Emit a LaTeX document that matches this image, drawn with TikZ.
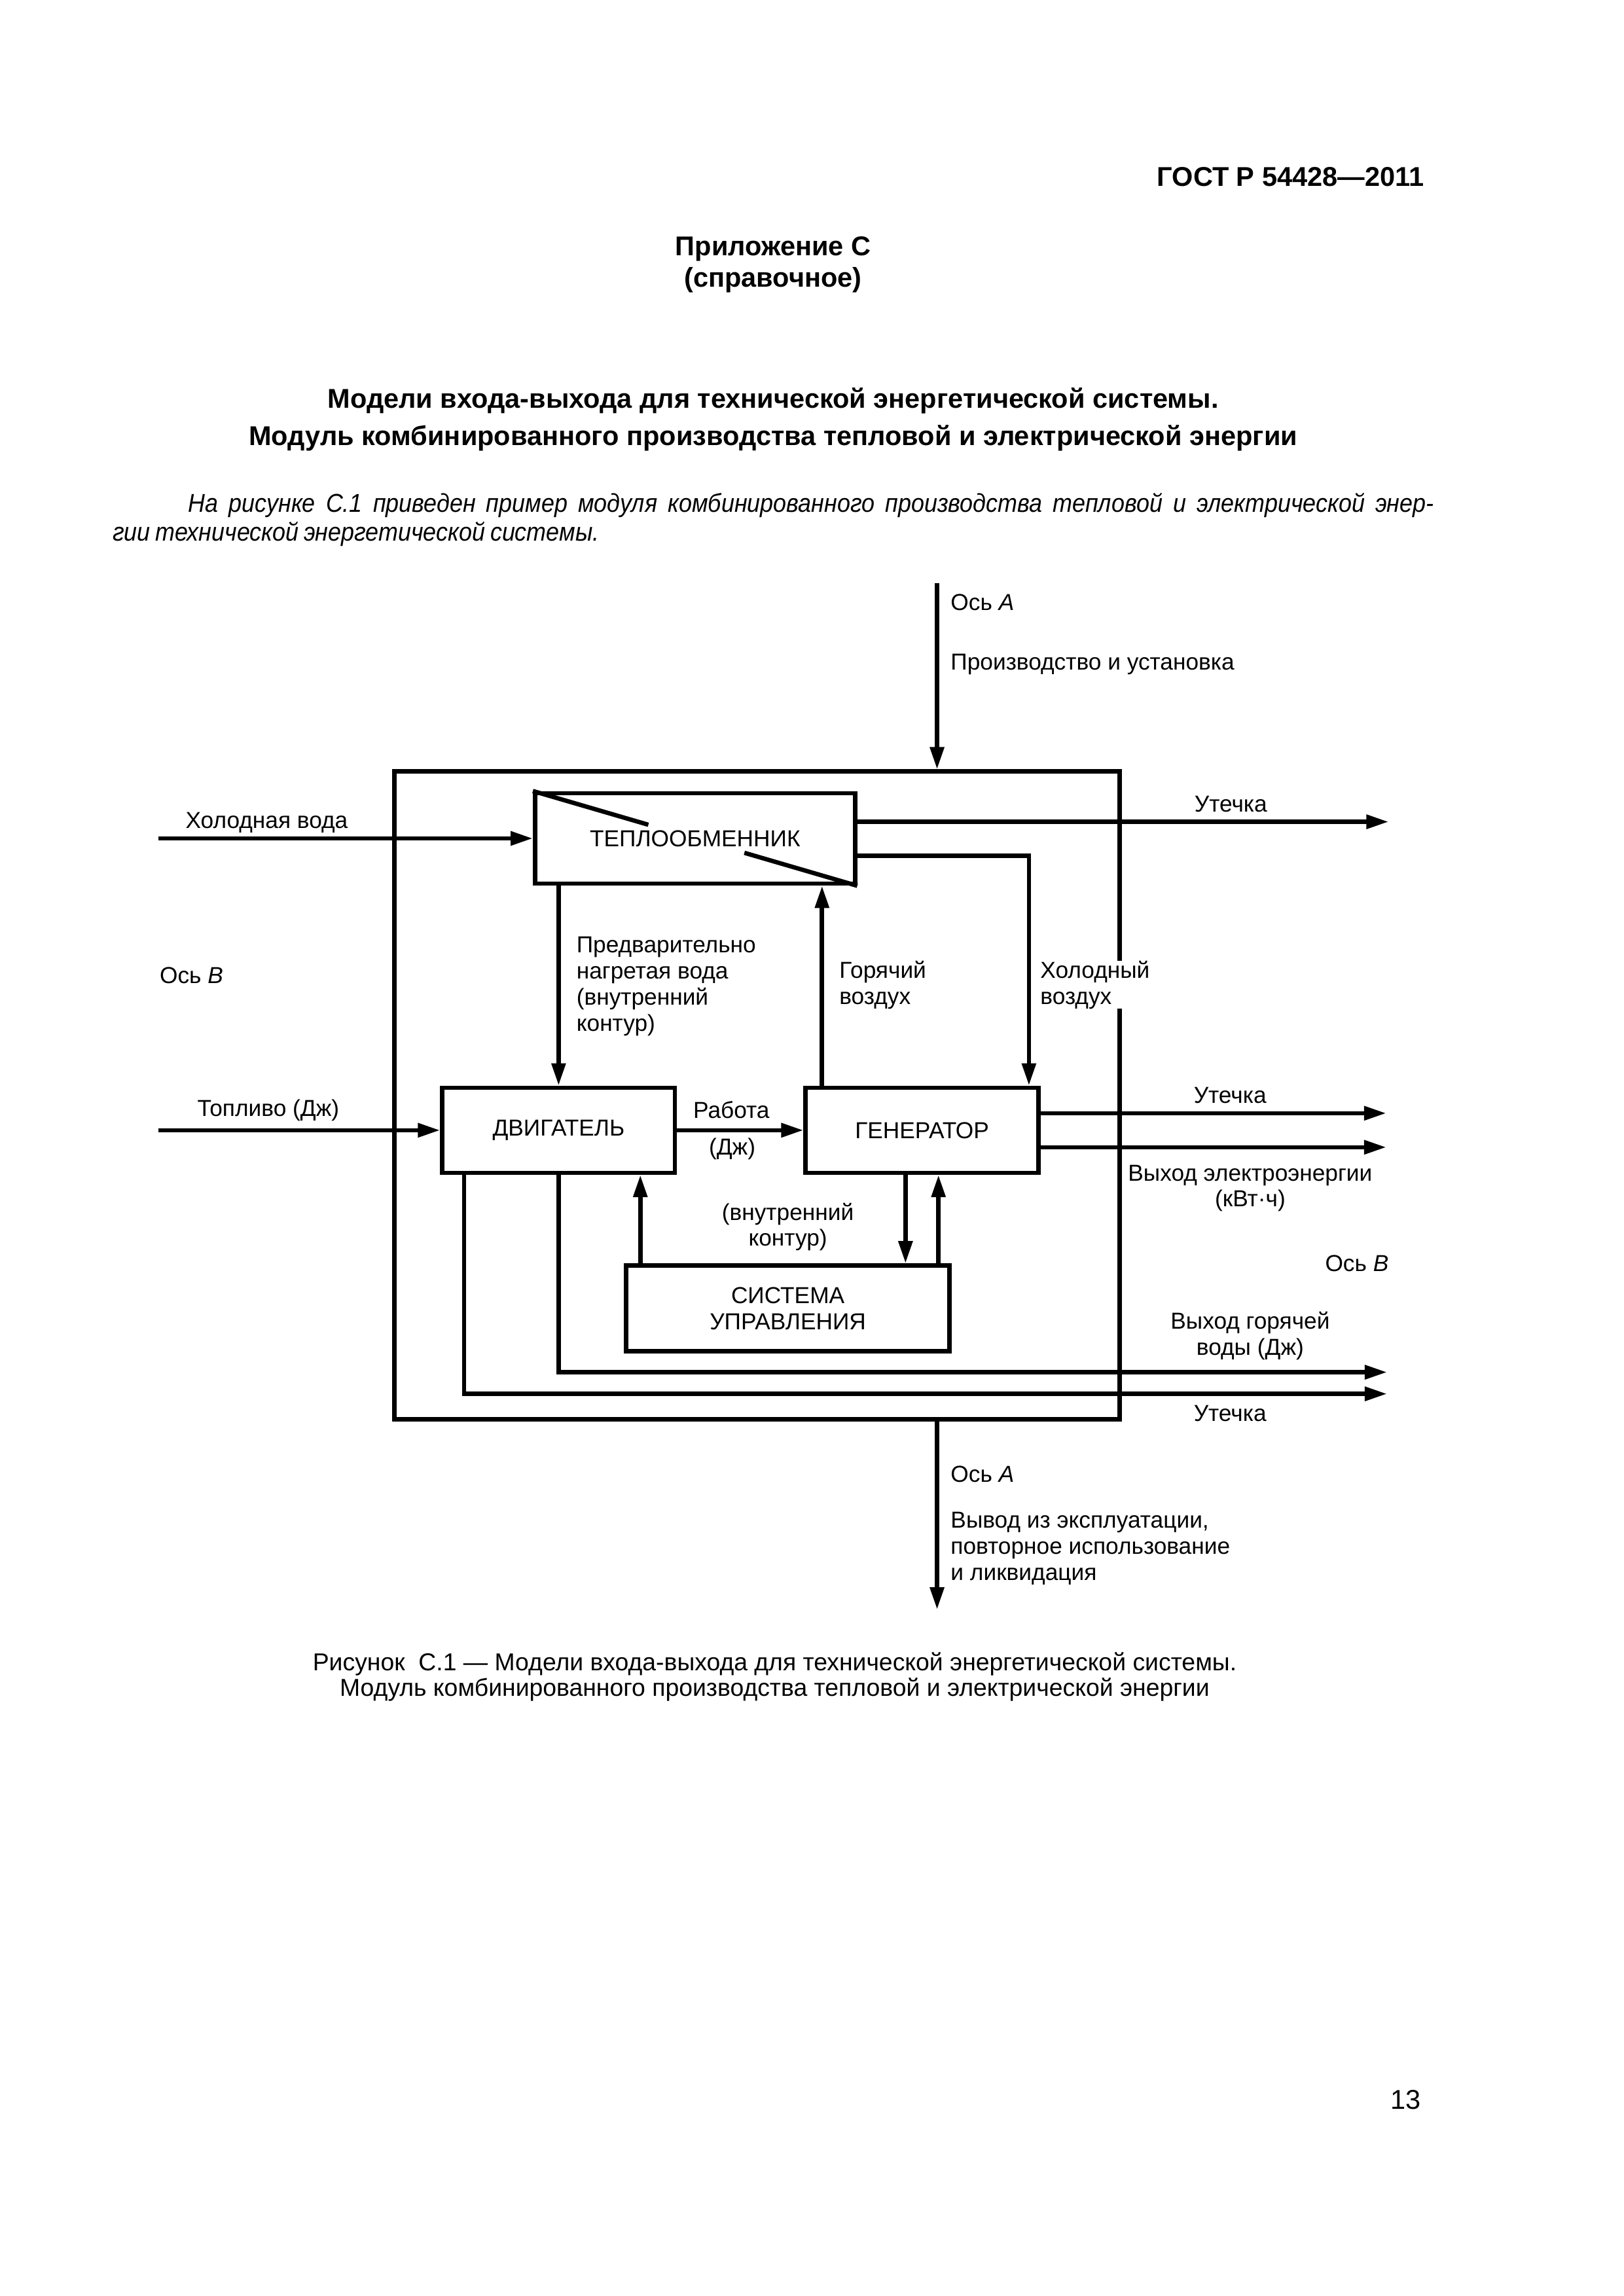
\documentclass[tikz,border=0pt]{standalone}
\usepackage{fontspec}
\setmainfont{Liberation Sans}
\newfontfamily\introfam[FakeStretch=0.91]{Liberation Sans}
\usetikzlibrary{arrows.meta,calc}
\newcommand{\diagfont}{\fontsize{8.5}{9.6}\selectfont}
\newcommand{\headfont}{\fontsize{10}{11.6}\selectfont\bfseries}
\newcommand{\titlefont}{\fontsize{10}{13.9}\selectfont\bfseries}
\newcommand{\introfont}{\introfam\fontsize{9.5}{10.6}\selectfont\itshape\spaceskip=0.2em plus 0.3em minus 0.1em\relax}
\newcommand{\capfont}{\fontsize{9}{9.6}\selectfont}
\tikzstyle{block}=[rectangle, draw=black, line width=1.6pt, inner sep=0pt, align=center, font=\diagfont]
\tikzstyle{annot}=[inner sep=0pt, font=\diagfont]
\tikzstyle{flow}=[line width=1.6pt, -{Triangle[length=8.2pt,width=5pt]}]
\tikzstyle{pipe}=[line width=1.6pt]

\begin{document}
\begin{tikzpicture}
	\useasboundingbox (0,0) rectangle (21,-29.7);

	\node[anchor=east, font=\headfont](gost) at (18.54,-2.29){ГОСТ Р 54428—2011};
	\node[align=center, font=\headfont](annex) at (10.0,-3.425){Приложение С\\(справочное)};
	\node[align=center, font=\titlefont](title) at (10.0,-5.425){Модели входа-выхода для технической энергетической системы.\\Модуль комбинированного производства тепловой и электрической энергии};
	\node[anchor=north west, text width=17.09cm, align=justify, font=\introfont, inner sep=0pt](intro) at (1.45,-6.37){\hspace*{0.98cm}На рисунке С.1 приведен пример модуля комбинированного производства тепловой и электрической энер-\linebreak{}гии технической энергетической системы.};

	\node[block, minimum width=9.38cm, minimum height=8.38cm](frame) at (9.79,-14.17){};
	\node[block, minimum width=4.14cm, minimum height=1.17cm](heat) at (8.99,-10.845){ТЕПЛООБМЕННИК};
	\node[block, minimum width=3.01cm, minimum height=1.10cm](engine) at (7.225,-14.62){ДВИГАТЕЛЬ};
	\node[block, minimum width=3.01cm, minimum height=1.10cm](gen) at (11.925,-14.62){ГЕНЕРАТОР};
	\node[block, minimum width=4.18cm, minimum height=1.11cm](ctrl) at (10.19,-16.925){СИСТЕМА\\УПРАВЛЕНИЯ};

	\draw[pipe] (heat.north west) -- ($(heat.north west)!0.356!(heat.south east)$);
	\draw[pipe] ($(heat.north west)!0.652!(heat.south east)$) -- (heat.south east);

	\coordinate (topA) at (12.12,-7.54);
	\coordinate (botA) at (12.12,-20.82);
	\coordinate (coldsrc) at (2.05,-10.845);
	\coordinate (fuelsrc) at (2.05,-14.62);
	\coordinate (leak1) at (17.96,-10.63);
	\coordinate (leak2) at (17.93,-14.40);
	\coordinate (elec) at (17.93,-14.84);
	\coordinate (hotw) at (17.94,-17.75);
	\coordinate (leak3) at (17.94,-18.03);
	\coordinate (hotair) at ([xshift=0.24cm]gen.north west);
	\coordinate (coldair) at ([yshift=0.39cm]heat.south east);
	\coordinate (leakfoot) at ([xshift=0.31cm]engine.south west);
	\coordinate (ctrlup) at ([xshift=0.21cm]ctrl.north west);
	\coordinate (gendown) at ([xshift=1.32cm]gen.south west);
	\coordinate (genup) at ([xshift=-0.17cm]ctrl.north east);

	\draw[flow] (topA) -- (topA |- frame.north);
	\draw[flow] (botA |- frame.south) -- (botA);
	\draw[flow] (coldsrc) -- (heat.west);
	\draw[flow] (fuelsrc) -- (engine.west);
	\draw[flow] (engine.east) -- (gen.west);
	\draw[flow] (leak1 -| heat.east) -- (leak1);
	\draw[flow] (leak2 -| gen.east) -- (leak2);
	\draw[flow] (elec -| gen.east) -- (elec);
	\draw[flow] (heat.south -| engine.north) -- (engine.north);
	\draw[flow] (hotair) -- (hotair |- heat.south);
	\draw[flow] (coldair) -| ([xshift=-0.15cm]gen.north east);
	\draw[flow] (engine.south) |- (hotw);
	\draw[flow] (leakfoot) |- (leak3);
	\draw[flow] (ctrlup) -- (ctrlup |- engine.south);
	\draw[flow] (gendown) -- (gendown |- ctrl.north);
	\draw[flow] (genup) -- (genup |- gen.south);

	\node[annot, anchor=west](axisAin) at (12.29,-7.79){Ось \textit{A}};
	\node[annot, anchor=west](make) at (12.29,-8.59){Производство и установка};
	\node[annot](coldwater) at (3.45,-10.64){Холодная вода};
	\node[annot](leakA) at (15.92,-10.40){Утечка};
	\node[annot, anchor=west](axisBin) at (2.06,-12.62){Ось \textit{B}};
	\node[annot, anchor=west, align=left](prewater) at (7.45,-12.76){Предварительно\\нагретая вода\\(внутренний\\контур)};
	\node[annot, anchor=west, align=left](hotairlbl) at (10.85,-12.74){Горячий\\воздух};
	\node[annot, anchor=west, align=left, fill=white](coldairlbl) at (13.45,-12.74){Холодный\\воздух};
	\node[annot](fuel) at (3.47,-14.36){Топливо (Дж)};
	\node[annot](work) at (9.46,-14.36){Работа};
	\node[annot](workj) at (9.47,-14.86){(Дж)};
	\node[annot](leakB) at (15.91,-14.17){Утечка};
	\node[annot, align=center](eleclbl) at (16.17,-15.37){Выход электроэнергии\\(кВт·ч)};
	\node[annot, align=center](loop) at (10.19,-15.87){(внутренний\\контур)};
	\node[annot](axisBout) at (17.55,-16.34){Ось \textit{B}};
	\node[annot, align=center](hotwlbl) at (16.17,-17.28){Выход горячей\\воды (Дж)};
	\node[annot](leakC) at (15.91,-18.28){Утечка};
	\node[annot, anchor=west](axisAout) at (12.29,-19.07){Ось \textit{A}};
	\node[annot, anchor=west, align=left](retire) at (12.29,-20.03){Вывод из эксплуатации,\\повторное использование\\и ликвидация};

	\node[align=center, font=\capfont](caption) at (10.02,-21.69){Рисунок\ \ С.1 — Модели входа-выхода для технической энергетической системы.\\Модуль комбинированного производства тепловой и электрической энергии};
	\node[anchor=east, font=\fontsize{10}{12}\selectfont](pageno) at (18.50,-27.16){13};

\end{tikzpicture}
\end{document}
